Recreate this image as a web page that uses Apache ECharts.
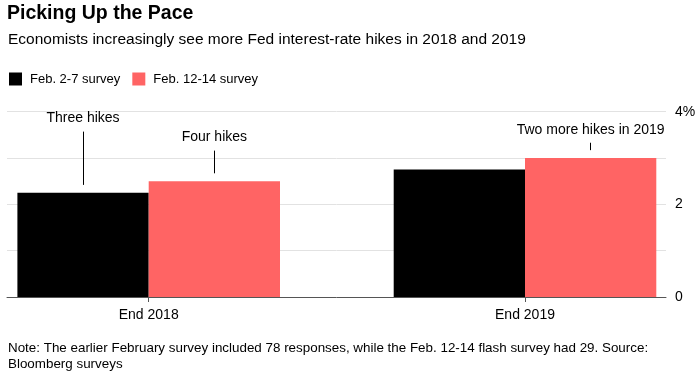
<!DOCTYPE html>
<html><head><meta charset="utf-8">
<script src="https://cdn.jsdelivr.net/npm/echarts@6/dist/echarts.min.js"></script>
<style>html,body{margin:0;padding:0;background:#fff}#c{width:700px;height:374px}</style>
</head><body><div id="c"></div>
<script>
const categories = ['End 2018', 'End 2019'];
const seriesNames = ['Feb. 2-7 survey', 'Feb. 12-14 survey'];
const earlySurvey = [2.25, 2.75];
const flashSurvey = [2.5, 3.0];
const yTickLabels = ['0', '', '2', '', '4%'];
const annotationTexts = [
  ['Three hikes', null],
  ['Four hikes', 'Two more hikes in 2019']
];
const titleText = 'Picking Up the Pace';
const subtitleText = 'Economists increasingly see more Fed interest-rate hikes in 2018 and 2019';
const noteText = 'Note: The earlier February survey included 78 responses, while the Feb. 12-14 flash survey had 29. Source:\nBloomberg surveys';

const FONT = '"Liberation Sans", Arial, sans-serif';
const colors = ['#000000', '#ff6464'];
const annLen = [[1.15, null], [0.49, 0.16]];

function makeMarkLine(si, vals) {
  const data = [];
  vals.forEach((v, ci) => {
    const t = annotationTexts[si][ci];
    if (!t) return;
    const start = v + 0.17;
    data.push([
      { coord: [ci, start] },
      { coord: [ci, start + annLen[si][ci]], label: { formatter: t } }
    ]);
  });
  return {
    silent: true, symbol: 'none', animation: false,
    lineStyle: { color: '#000', width: 1, type: 'solid' },
    label: { show: true, position: 'end', distance: 6, color: '#000', fontSize: 14, fontFamily: FONT },
    data: data
  };
}

const chart = echarts.init(document.getElementById('c'), null, { renderer: 'canvas' });
chart.setOption({
  animation: false,
  textStyle: { fontFamily: FONT },
  title: [
    { text: titleText, left: 7, top: 4, padding: 0, textStyle: { fontSize: 19.5, fontWeight: 'bold', color: '#000', fontFamily: FONT, letterSpacing: -1.4 } },
    { text: subtitleText, left: 8, top: 31.5, padding: 0, textStyle: { fontSize: 15.5, fontWeight: 'normal', color: '#000', fontFamily: FONT } },
    { text: noteText, left: 8, top: 340, padding: 0, textStyle: { fontSize: 13.4, fontWeight: 'normal', color: '#000', fontFamily: FONT, lineHeight: 16.5 } }
  ],
  legend: {
    left: 9, top: 72.5, padding: 0, icon: 'rect', itemWidth: 13, itemHeight: 13, itemGap: 12,
    textStyle: { fontSize: 13, color: '#000', padding: [0, 0, 0, 3] },
    data: seriesNames
  },
  grid: [
    { left: 148.7, right: 175, top: 111.7, bottom: 77 },
    { left: 7, right: 34, top: 111.7, bottom: 77 }
  ],
  xAxis: [
    {
      type: 'category', gridIndex: 0, data: categories, boundaryGap: false,
      axisLine: { show: false },
      axisTick: { show: true, length: 5, lineStyle: { color: '#555' } },
      axisLabel: { color: '#000', fontSize: 14, margin: 11 },
      splitLine: { show: false }
    },
    {
      type: 'value', gridIndex: 1, min: 0, max: 1,
      axisLine: { show: true, lineStyle: { color: '#555', width: 1 } },
      axisTick: { show: false }, axisLabel: { show: false }, splitLine: { show: false }
    }
  ],
  yAxis: [
    { type: 'value', gridIndex: 0, min: 0, max: 4, show: false },
    {
      type: 'value', gridIndex: 1, position: 'right', min: 0, max: 4, interval: 1,
      axisLine: { show: false }, axisTick: { show: false },
      axisLabel: { color: '#000', fontSize: 14, margin: 9, formatter: (v) => yTickLabels[Math.round(v)] },
      splitLine: { show: true, lineStyle: { color: '#e2e2e2', width: 1 } }
    }
  ],
  series: [
    {
      name: seriesNames[0], type: 'bar', xAxisIndex: 0, yAxisIndex: 0, clip: false,
      data: earlySurvey, barWidth: 131.3, barGap: '0%',
      itemStyle: { color: colors[0] },
      markLine: makeMarkLine(0, earlySurvey)
    },
    {
      name: seriesNames[1], type: 'bar', xAxisIndex: 0, yAxisIndex: 0, clip: false,
      data: flashSurvey, barWidth: 131.3, barGap: '0%',
      itemStyle: { color: colors[1] },
      markLine: makeMarkLine(1, flashSurvey)
    }
  ]
});
</script></body></html>
